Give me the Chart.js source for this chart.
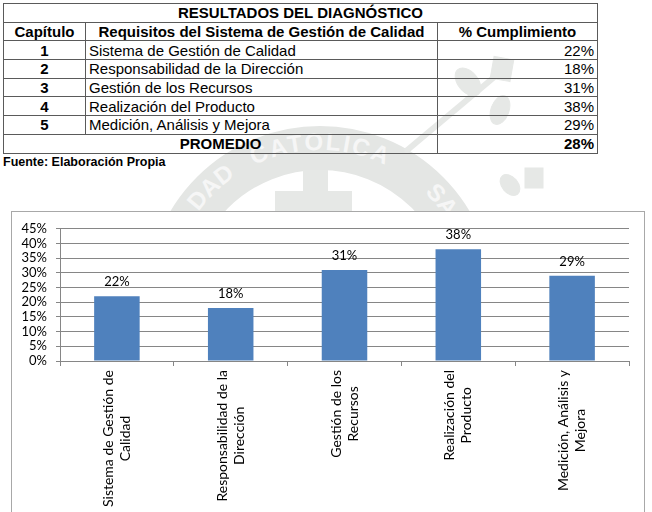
<!DOCTYPE html>
<html>
<head>
<meta charset="utf-8">
<script src="https://cdn.jsdelivr.net/npm/chart.js@4/dist/chart.umd.min.js"></script>
<style>
  html, body { margin: 0; padding: 0; background: #fff; width: 652px; height: 512px; overflow: hidden; position: relative; }
  #mark { position: absolute; left: 0; top: 0; z-index: 0; }
  table { position: absolute; left: 3px; top: 3px; z-index: 1; border-collapse: collapse; width: 595px;
          font-family: "Liberation Sans", Arial, sans-serif; font-size: 15px; color: #000; }
  td { border: 1px solid #5a5a5a; height: 17.7px; padding: 0 3px; line-height: 17px; white-space: nowrap; }
  .b { font-weight: bold; }
  .c { text-align: center; }
  .r { text-align: right; }
  #fuente { position: absolute; left: 3px; top: 155px; z-index: 1; font: bold 12.5px "Liberation Sans", Arial, sans-serif; }
  #box { position: absolute; left: 11px; top: 211px; width: 632px; height: 320px; border: 1px solid #a8a8a8; background: #fff; z-index: 2; }
</style>
</head>
<body>
<svg id="mark" width="652" height="512">
  <circle cx="320" cy="300" r="152" fill="none" stroke="#e4e6e4" stroke-width="44"/>
  <rect x="303" y="170" width="25" height="90" fill="#e6e8e6"/>
  <rect x="275" y="191" width="77" height="24" fill="#e6e8e6"/>
  <g stroke="#e6e8e6" fill="#e6e8e6">
    <line x1="405" y1="152" x2="505" y2="68" stroke-width="6"/>
    <ellipse cx="468" cy="82" rx="10" ry="16" transform="rotate(-40 468 82)"/>
    <rect x="492" y="58" width="20" height="22" transform="rotate(10 502 69)"/>
    <ellipse cx="500" cy="110" rx="9" ry="15" transform="rotate(20 500 110)"/>
    <ellipse cx="510" cy="185" rx="8" ry="12" transform="rotate(-40 510 185)"/>
    <rect x="525" y="168" width="18" height="20"/>
  </g>
  <defs><path id="arc" d="M 170 300 A 150 150 0 0 1 470 300"/></defs>
  <text font-family="Liberation Sans" font-weight="bold" font-size="24" fill="#f6f6f6">
    <textPath href="#arc" startOffset="120" text-anchor="middle">DAD</textPath>
  </text>
  <text font-family="Liberation Sans" font-weight="bold" font-size="24" fill="#f6f6f6" letter-spacing="2">
    <textPath href="#arc" startOffset="236" text-anchor="middle">CATOLICA</textPath>
  </text>
  <text font-family="Liberation Sans" font-weight="bold" font-size="24" fill="#f6f6f6">
    <textPath href="#arc" startOffset="368" text-anchor="middle">SA</textPath>
  </text>
</svg>

<table id="tbl"></table>
<div id="fuente">Fuente: Elaboración Propia</div>

<div id="box"><canvas id="my_Chart" width="632" height="300"></canvas></div>

<script>
// Data
var capitulos = ["1", "2", "3", "4", "5"];
var requisitos = ["Sistema de Gestión de Calidad", "Responsabilidad de la Dirección", "Gestión de los Recursos", "Realización del Producto", "Medición, Análisis y Mejora"];
var cumplimiento = [22, 18, 31, 38, 29];
var promedio = 28;
// axis labels as they wrap in the chart
var xLabels = [["Sistema de Gestión de", "Calidad"], ["Responsabilidad de la", "Dirección"], ["Gestión de los", "Recursos"], ["Realización del", "Producto"], ["Medición, Análisis y", "Mejora"]];
var yTicks = [0, 5, 10, 15, 20, 25, 30, 35, 40, 45];

// Table
var html = '<tr><td class="b c" colspan="3">RESULTADOS DEL DIAGNÓSTICO</td></tr>' +
  '<tr><td class="b c" style="width:75px">Capítulo</td><td class="b c" style="width:345px">Requisitos del Sistema de Gestión de Calidad</td><td class="b c">% Cumplimiento</td></tr>';
for (var i = 0; i < capitulos.length; i++) {
  html += '<tr><td class="b c">' + capitulos[i] + '</td><td>' + requisitos[i] + '</td><td class="r">' + cumplimiento[i] + '%</td></tr>';
}
html += '<tr><td class="b c" colspan="2">PROMEDIO</td><td class="b r">' + promedio + '%</td></tr>';
document.getElementById('tbl').innerHTML = html;

// Labels above bars
var valueLabels = {
  id: 'valueLabels',
  afterDatasetsDraw: function (chart) {
    var ctx = chart.ctx;
    var meta = chart.getDatasetMeta(0);
    ctx.save();
    ctx.font = '13px Lato';
    ctx.fillStyle = '#000';
    ctx.textAlign = 'center';
    ctx.textBaseline = 'alphabetic';
    meta.data.forEach(function (bar, i) {
      ctx.fillText(cumplimiento[i] + '%', bar.x, bar.y - 10);
    });
    ctx.restore();
  }
};

// Rotated category labels, lines centred like Excel
var catLabels = {
  id: 'catLabels',
  afterDraw: function (chart) {
    var ctx = chart.ctx;
    var xs = chart.scales.x;
    var top = chart.chartArea.bottom + 9;
    ctx.save();
    ctx.font = '14px Lato';
    ctx.fillStyle = '#000';
    ctx.textAlign = 'center';
    ctx.textBaseline = 'middle';
    xLabels.forEach(function (lines, i) {
      var maxW = 0;
      lines.forEach(function (l) { maxW = Math.max(maxW, ctx.measureText(l).width); });
      ctx.save();
      ctx.translate(xs.getPixelForValue(i), top);
      ctx.rotate(-Math.PI / 2);
      lines.forEach(function (l, j) {
        ctx.fillText(l, -maxW / 2, (j - (lines.length - 1) / 2) * 17);
      });
      ctx.restore();
    });
    ctx.restore();
  }
};

var ctx = document.getElementById('my_Chart').getContext('2d');
var myChart = new Chart(ctx, {
  type: 'bar',
  data: {
    labels: requisitos,
    datasets: [{
      data: cumplimiento,
      backgroundColor: '#4f81bd',
      borderWidth: 0,
      categoryPercentage: 1,
      barPercentage: 0.4
    }]
  },
  options: {
    responsive: false,
    animation: false,
    devicePixelRatio: 1,
    layout: { padding: { top: 15.7, right: 15, left: 0, bottom: 0 } },
    plugins: { legend: { display: false }, tooltip: { enabled: false } },
    scales: {
      x: {
        afterFit: function (s) { s.height = 151; },
        grid: { drawOnChartArea: false, drawTicks: true, tickLength: 5, color: '#868686' },
        border: { color: '#868686' },
        ticks: { display: false }
      },
      y: {
        min: yTicks[0],
        max: yTicks[yTicks.length - 1],
        afterFit: function (s) { s.width = 48; },
        afterBuildTicks: function (s) { s.ticks = yTicks.map(function (v) { return { value: v }; }); },
        grid: { color: '#868686', tickLength: 4 },
        border: { color: '#868686' },
        ticks: {
          autoSkip: false,
          padding: 9,
          color: '#000',
          font: { family: 'Lato', size: 13 },
          callback: function (v) { return v + '%'; }
        }
      }
    }
  },
  plugins: [valueLabels, catLabels]
});
</script>
</body>
</html>
